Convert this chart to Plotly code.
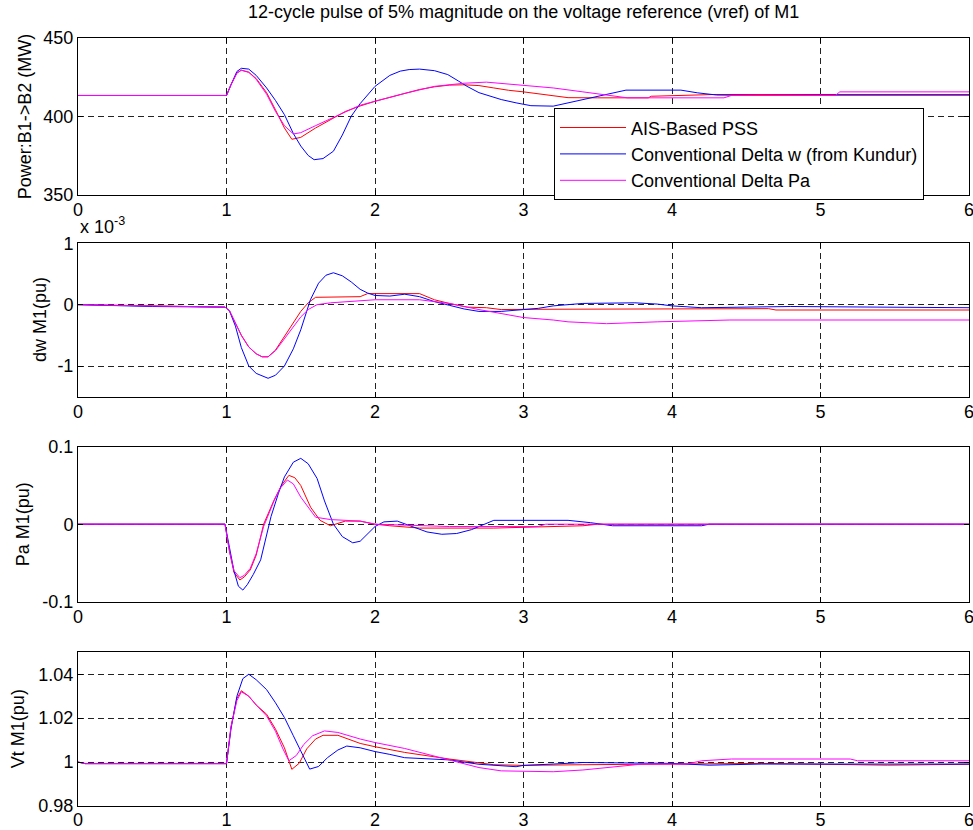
import plotly.graph_objects as go
from plotly.subplots import make_subplots

# ---------------- data ----------------
names = ["AIS-Based PSS", "Conventional Delta w (from Kundur)", "Conventional Delta Pa"]
colors = ["#ff0000", "#0000ff", "#ff00ff"]

# Power B1->B2 (MW)
t_pw_red = [0, 1.0, 1.03, 1.07, 1.1, 1.15, 1.2, 1.27, 1.33, 1.39, 1.44, 1.5, 1.6, 1.7, 1.8, 1.9, 2.0, 2.1, 2.2, 2.3, 2.4, 2.5, 2.6, 2.7, 2.8, 2.9, 3.0, 3.15, 3.3, 3.5, 3.84, 3.86, 4.28, 5.0, 6.0]
pw_red = [413.2, 413.2, 420, 427.5, 429.3, 428, 424, 415, 404, 392.5, 385.3, 386.5, 392.5, 398, 403, 406.5, 409.5, 412, 414.5, 417, 418.7, 419.8, 420, 419.5, 418, 416.5, 415.5, 413.8, 411.8, 411.7, 411.7, 412.7, 413.8, 413.8, 413.8]
t_pw_blue = [0, 1.0, 1.03, 1.07, 1.1, 1.15, 1.2, 1.27, 1.33, 1.39, 1.45, 1.5, 1.55, 1.59, 1.65, 1.72, 1.78, 1.84, 1.9, 2.0, 2.1, 2.17, 2.23, 2.3, 2.4, 2.49, 2.56, 2.62, 2.7, 2.78, 2.85, 2.95, 3.05, 3.2, 3.3, 3.49, 3.6, 3.69, 4.06, 4.17, 4.3, 4.6, 5.0, 5.5, 6.0]
pw_blue = [413.2, 413.2, 420, 428.5, 430.5, 430, 426, 418, 410, 401, 389, 381, 375, 372.3, 373, 377.7, 388, 400, 408, 419, 426, 428.7, 429.7, 430, 429, 426.5, 422.5, 419, 415, 412.5, 410.6, 408.5, 406.7, 406.4, 408.5, 412.3, 414.9, 416.6, 416.6, 414.9, 413.5, 413.2, 413.4, 413.5, 413.4]
t_pw_mag = [0, 1.0, 1.03, 1.07, 1.1, 1.15, 1.2, 1.27, 1.33, 1.39, 1.45, 1.5, 1.6, 1.7, 1.8, 1.9, 2.0, 2.2, 2.4, 2.6, 2.75, 2.9, 3.0, 3.2, 3.4, 3.6, 3.7, 4.35, 4.4, 5.1, 5.13, 6.0]
pw_mag = [413.2, 413.2, 420, 427.5, 429.3, 428, 423.5, 414, 403, 394, 388.7, 389.5, 394, 398.5, 403, 407, 409.5, 414.5, 419, 421, 421.7, 420.5, 419.5, 418, 415.5, 412.7, 411.7, 411.7, 413.2, 413.2, 415.5, 415.5]

# dw M1 (pu, x 10^-3)
t_dw_red = [0, 0.5, 0.99, 1.02, 1.06, 1.1, 1.15, 1.2, 1.24, 1.28, 1.33, 1.39, 1.45, 1.5, 1.55, 1.6, 1.9, 1.95, 2.3, 2.4, 2.5, 2.62, 2.75, 2.85, 3.0, 3.55, 3.6, 4.65, 4.7, 6.0]
dw_red = [0, -0.02, -0.04, -0.1, -0.3, -0.5, -0.69, -0.8, -0.85, -0.85, -0.74, -0.52, -0.28, -0.11, 0.03, 0.12, 0.13, 0.18, 0.18, 0.08, 0.02, -0.04, -0.05, -0.08, -0.076, -0.076, -0.065, -0.065, -0.087, -0.087]
t_dw_blue = [0, 0.2, 0.5, 0.99, 1.02, 1.06, 1.1, 1.15, 1.2, 1.28, 1.33, 1.39, 1.45, 1.5, 1.565, 1.62, 1.67, 1.72, 1.78, 1.84, 1.9, 1.95, 2.0, 2.1, 2.2, 2.3, 2.4, 2.5, 2.6, 2.7, 2.85, 3.0, 3.1, 3.2, 3.4, 3.75, 3.9, 4.0, 4.2, 4.8, 5.6, 6.0]
dw_blue = [0, -0.01, -0.03, -0.04, -0.1, -0.35, -0.7, -1.0, -1.12, -1.2, -1.15, -1.0, -0.72, -0.41, 0.08, 0.35, 0.48, 0.52, 0.47, 0.37, 0.25, 0.19, 0.15, 0.14, 0.17, 0.13, 0.05, -0.01, -0.07, -0.11, -0.11, -0.08, -0.06, -0.02, 0.02, 0.03, 0.01, -0.02, -0.05, -0.03, -0.05, -0.05]
t_dw_mag = [0, 0.5, 0.99, 1.02, 1.06, 1.1, 1.15, 1.2, 1.24, 1.28, 1.33, 1.39, 1.45, 1.5, 1.55, 1.61, 1.7, 1.8, 2.0, 2.3, 2.5, 2.7, 2.85, 3.0, 3.2, 3.3, 3.56, 3.9, 4.39, 6.0]
dw_mag = [0, -0.02, -0.04, -0.1, -0.3, -0.5, -0.69, -0.8, -0.85, -0.85, -0.75, -0.55, -0.35, -0.2, -0.08, 0.0, 0.03, 0.05, 0.08, 0.08, 0.02, -0.08, -0.15, -0.21, -0.25, -0.28, -0.31, -0.28, -0.25, -0.25]

# Pa M1 (pu)
t_pa_red = [0, 0.99, 1.02, 1.05, 1.09, 1.12, 1.16, 1.2, 1.25, 1.32, 1.37, 1.42, 1.46, 1.5, 1.566, 1.63, 1.7, 1.8, 1.9, 2.0, 2.1, 2.3, 2.8, 3.4, 3.5, 6.0]
pa_red = [0, 0, -0.035, -0.062, -0.072, -0.068, -0.059, -0.04, 0.0, 0.031, 0.05, 0.063, 0.06, 0.05, 0.022, 0.005, -0.002, 0.004, 0.004, 0, -0.002, -0.005, -0.005, -0.002, 0, 0]
t_pa_blue = [0, 0.99, 1.02, 1.05, 1.08, 1.11, 1.14, 1.18, 1.23, 1.27, 1.3, 1.35, 1.39, 1.45, 1.5, 1.55, 1.61, 1.66, 1.72, 1.78, 1.85, 1.9, 1.95, 2.0, 2.06, 2.15, 2.25, 2.35, 2.45, 2.55, 2.65, 2.75, 2.8, 3.3, 3.45, 3.6, 4.2, 4.25, 6.0]
pa_blue = [0, 0, -0.03, -0.06, -0.08, -0.085, -0.078, -0.065, -0.046, -0.012, 0.01, 0.04, 0.061, 0.08, 0.085, 0.078, 0.059, 0.03, 0.0, -0.016, -0.024, -0.022, -0.012, -0.003, 0.003, 0.004, -0.003, -0.01, -0.013, -0.012, -0.007, 0.001, 0.005, 0.005, 0.002, -0.002, -0.002, 0, 0]
t_pa_mag = [0, 0.99, 1.02, 1.05, 1.09, 1.12, 1.16, 1.2, 1.25, 1.32, 1.36, 1.41, 1.45, 1.5, 1.6, 1.7, 1.9, 2.0, 2.5, 3.1, 3.15, 6.0]
pa_mag = [0, 0, -0.035, -0.06, -0.069, -0.066, -0.057, -0.038, -0.003, 0.03, 0.046, 0.057, 0.052, 0.035, 0.009, 0.006, 0.004, 0, -0.003, -0.003, 0, 0]

# Vt M1 (pu)
t_vt_red = [0, 0.05, 0.99, 1.0, 1.03, 1.07, 1.1, 1.15, 1.2, 1.27, 1.33, 1.39, 1.44, 1.49, 1.54, 1.6, 1.65, 1.75, 1.9, 2.0, 2.2, 2.5, 2.8, 3.0, 3.4, 3.9, 4.6, 5.45, 6.0]
vt_red = [1.0, 0.9993, 0.9993, 0.9993, 1.016, 1.029, 1.0325, 1.030, 1.026, 1.0218, 1.015, 1.0065, 0.9967, 0.9995, 1.006, 1.0105, 1.0122, 1.0122, 1.0085, 1.007, 1.0044, 1.0014, 0.9988, 0.9985, 0.9988, 0.999, 0.9994, 0.9986, 0.999]
t_vt_blue = [0, 0.05, 0.99, 1.0, 1.03, 1.07, 1.11, 1.15, 1.2, 1.27, 1.33, 1.39, 1.45, 1.5, 1.56, 1.62, 1.68, 1.75, 1.81, 1.9, 2.0, 2.1, 2.2, 2.5, 2.7, 2.95, 3.0, 3.2, 3.4, 4.0, 4.25, 4.6, 6.0]
vt_blue = [1.0, 0.9993, 0.9993, 0.9993, 1.015, 1.03, 1.038, 1.040, 1.0375, 1.033, 1.027, 1.0203, 1.012, 1.005, 0.9968, 0.998, 1.002, 1.0055, 1.0073, 1.0065, 1.0048, 1.0035, 1.002, 1.001, 0.999, 0.9979, 0.9985, 0.9991, 0.9998, 0.9994, 0.9986, 0.9991, 0.9991]
t_vt_mag = [0, 0.05, 0.99, 1.0, 1.03, 1.07, 1.1, 1.15, 1.2, 1.27, 1.33, 1.38, 1.42, 1.47, 1.52, 1.58, 1.66, 1.75, 1.9, 2.0, 2.2, 2.5, 2.7, 2.85, 3.2, 3.4, 3.6, 3.8, 4.1, 4.2, 4.4, 5.2, 5.25, 6.0]
vt_mag = [1.0, 0.9993, 0.9993, 0.9993, 1.016, 1.028, 1.032, 1.030, 1.026, 1.021, 1.014, 1.006, 1.0006, 1.003, 1.008, 1.012, 1.0142, 1.0135, 1.0105, 1.0089, 1.0062, 1.001, 0.9975, 0.996, 0.9956, 0.9964, 0.9976, 0.9991, 0.9991, 1.0006, 1.0014, 1.0014, 1.0006, 1.0006]

x_ticks = [0, 1, 2, 3, 4, 5, 6]
y_ticks = [[350, 400, 450], [-1, 0, 1], [-0.1, 0, 0.1], [0.98, 1.0, 1.02, 1.04]]
y_ticktext = [["350", "400", "450"], ["-1", "0", "1"], ["-0.1", "0", "0.1"], ["0.98", "1", "1.02", "1.04"]]
y_ranges = [[350, 450], [-1.5, 1], [-0.1, 0.1], [0.98, 1.05]]
y_titles = ["Power:B1->B2 (MW)", "dw M1(pu)", "Pa M1(pu)", "Vt M1(pu)"]
title_text = "12-cycle pulse of 5% magnitude on the voltage reference (vref) of M1"

panels = [
    [(t_pw_red, pw_red), (t_pw_blue, pw_blue), (t_pw_mag, pw_mag)],
    [(t_dw_red, dw_red), (t_dw_blue, dw_blue), (t_dw_mag, dw_mag)],
    [(t_pa_red, pa_red), (t_pa_blue, pa_blue), (t_pa_mag, pa_mag)],
    [(t_vt_red, vt_red), (t_vt_blue, vt_blue), (t_vt_mag, vt_mag)],
]

# ---------------- layout geometry ----------------
W, H = 973, 830
L, R = 78, 4
PW = W - L - R
ax_px = [(37.7, 194.7), (243.3, 396.7), (446.7, 601.7), (652.3, 806.0)]
ytitle_x = [25, 40, 23, 18]

FONT = "Arial, Liberation Sans, sans-serif"
FS = 18

fig = make_subplots(rows=4, cols=1)

for i, panel in enumerate(panels):
    for j, (tx, vy) in enumerate(panel):
        fig.add_trace(go.Scatter(x=tx, y=vy, mode="lines", name=names[j],
                                 line=dict(color=colors[j], width=1),
                                 showlegend=(i == 0)), row=i + 1, col=1)

annotations = []
for i in range(4):
    top, bot = ax_px[i]
    dom = [1 - bot / H, 1 - top / H]
    xa = "xaxis" if i == 0 else f"xaxis{i+1}"
    ya = "yaxis" if i == 0 else f"yaxis{i+1}"
    common = dict(showgrid=True, gridcolor="#222", gridwidth=1, griddash="6px,4px",
                  zeroline=False, showline=True, linecolor="black", linewidth=1,
                  mirror="ticks", ticks="inside", ticklen=5, tickcolor="black",
                  ticklabeloverflow="allow",
                  tickfont=dict(family=FONT, size=FS, color="black"))
    fig.layout[xa].update(range=[0, 6], tickvals=x_ticks,
                          ticktext=[str(v) for v in x_ticks], domain=[0, 1],
                          ticklabelstandoff=(-3 if i == 3 else -1), **common)
    fig.layout[ya].update(range=y_ranges[i], tickvals=y_ticks[i],
                          ticktext=y_ticktext[i], domain=dom, **common)
    annotations.append(dict(
        text=y_titles[i], textangle=-90, xref="paper", yref="paper",
        x=(ytitle_x[i] - L) / PW, y=1 - (top + bot) / 2 / H,
        xanchor="center", yanchor="middle", showarrow=False,
        font=dict(family=FONT, size=FS, color="black")))

annotations.append(dict(text=title_text, xref="paper", yref="paper",
                        x=(523 - L) / PW, y=1 - 12 / H, xanchor="center", yanchor="middle",
                        showarrow=False, font=dict(family=FONT, size=FS, color="black")))
annotations.append(dict(text="x 10<sup>-3</sup>", xref="paper", yref="paper",
                        x=0, y=1 - 226 / H, xanchor="left", yanchor="middle",
                        showarrow=False, font=dict(family=FONT, size=FS, color="black")))

fig.update_layout(
    width=W, height=H, autosize=False,
    margin=dict(l=L, r=R, t=0, b=0, pad=0, autoexpand=False),
    paper_bgcolor="white", plot_bgcolor="white",
    annotations=annotations,
    legend=dict(x=(554 - L) / PW, y=1 - 108.3 / H, xanchor="left", yanchor="top",
                bgcolor="white", bordercolor="black", borderwidth=1,
                font=dict(family=FONT, size=FS, color="black"),
                tracegroupgap=0, itemwidth=66),
    font=dict(family=FONT, color="black"),
)

fig.write_html("out.html")
